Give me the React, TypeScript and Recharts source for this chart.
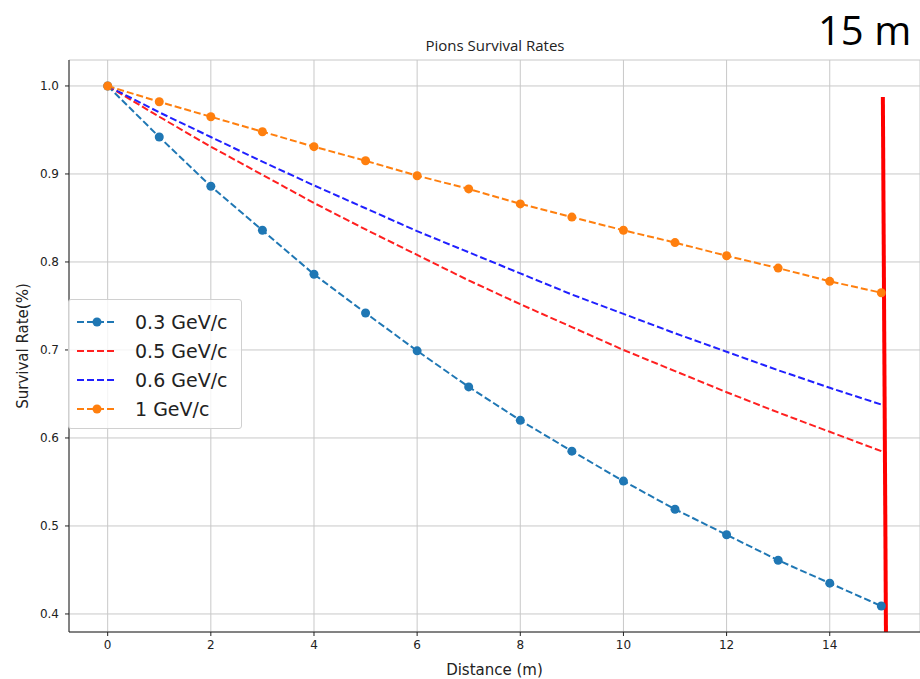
import React from "react";
import {
  LineChart,
  Line,
  XAxis,
  YAxis,
  CartesianGrid,
  ReferenceLine,
  Legend,
} from "recharts";

// distance along the beam line (m)
const distance = [0, 1, 2, 3, 4, 5, 6, 7, 8, 9, 10, 11, 12, 13, 14, 15];

// survival fraction per momentum
const rate03 = [1.0, 0.942, 0.886, 0.836, 0.786, 0.742, 0.699, 0.658, 0.62, 0.585, 0.551, 0.519, 0.49, 0.461, 0.435, 0.409];
const rate05 = [1.0, 0.965, 0.931, 0.899, 0.867, 0.837, 0.808, 0.779, 0.752, 0.726, 0.7, 0.676, 0.652, 0.629, 0.607, 0.585];
const rate06 = [1.0, 0.97, 0.942, 0.914, 0.887, 0.861, 0.835, 0.811, 0.787, 0.763, 0.741, 0.719, 0.698, 0.677, 0.657, 0.638];
const rate1 = [1.0, 0.982, 0.965, 0.948, 0.931, 0.915, 0.898, 0.883, 0.866, 0.851, 0.836, 0.822, 0.807, 0.793, 0.778, 0.765];

const xTicks = [0, 2, 4, 6, 8, 10, 12, 14];
const yTicks = [0.4, 0.5, 0.6, 0.7, 0.8, 0.9, 1.0];

// hand-drawn red marker at 15 m (top / bottom end, in data units)
const cutTop = { x: 15.03, y: 0.9875 };
const cutBottom = { x: 15.09, y: 0.3795 };

const series = [
  { key: "r03", name: "0.3 GeV/c", color: "#1f77b4", dot: true },
  { key: "r05", name: "0.5 GeV/c", color: "#ff2020", dot: false },
  { key: "r06", name: "0.6 GeV/c", color: "#2020ff", dot: false },
  { key: "r1", name: "1 GeV/c", color: "#ff7f0e", dot: true },
];

const data = distance.map((d, i) => ({
  d,
  r03: rate03[i],
  r05: rate05[i],
  r06: rate06[i],
  r1: rate1[i],
}));

const FONT = "'DejaVu Sans', sans-serif";
const DASH = "7 3";

function LegendBox() {
  return (
    <div
      style={{
        background: "rgba(255,255,255,0.8)",
        border: "1px solid #d0d0d0",
        borderRadius: 3,
        boxSizing: "border-box",
        width: 174,
        height: 130,
        padding: "7px 0 0 7px",
        fontFamily: FONT,
        fontSize: 19,
        color: "#222",
      }}
    >
      {series.map((s) => (
        <div key={s.key} style={{ display: "flex", alignItems: "center", height: 29 }}>
          <svg width={42} height={14} style={{ marginRight: 17 }}>
            <line x1={1} y1={7} x2={41} y2={7} stroke={s.color} strokeWidth={2} strokeDasharray={DASH} />
            {s.dot && <circle cx={21} cy={7} r={4.5} fill={s.color} />}
          </svg>
          <span>{s.name}</span>
        </div>
      ))}
    </div>
  );
}

export default function App() {
  return (
    <div style={{ position: "absolute", left: 0, top: 0, width: 920, height: 679, background: "#fff" }}>
      <div
        style={{
          position: "absolute",
          left: 0,
          width: 990,
          top: 35,
          textAlign: "center",
          fontFamily: "'Open Sans', sans-serif",
          fontSize: 15,
          color: "#222",
        }}
      >
        Pions Survival Rates
      </div>
      <div
        style={{
          position: "absolute",
          left: 818,
          top: 2,
          fontFamily: "'Open Sans', sans-serif",
          fontSize: 40,
          color: "#000",
        }}
      >
        15 m
      </div>
      <LineChart
        width={920}
        height={679}
        data={data}
        margin={{ top: 60, right: 0, bottom: 0, left: 0 }}
      >
        <CartesianGrid stroke="#c8c8c8" strokeWidth={1} />
        <XAxis
          dataKey="d"
          type="number"
          domain={[-0.75, 15.75]}
          allowDataOverflow
          ticks={xTicks}
          interval={0}
          height={47}
          tickSize={4}
          tickMargin={4}
          stroke="#222"
          tick={{ fill: "#222", fontSize: 12, fontFamily: FONT }}
          label={{ value: "Distance (m)", position: "insideBottom", offset: 4, fill: "#222", fontSize: 15, fontFamily: FONT }}
        />
        <XAxis
          xAxisId="top"
          dataKey="d"
          type="number"
          orientation="top"
          domain={[-0.75, 15.75]}
          height={0}
          tick={false}
          tickLine={false}
          stroke="#222"
        />
        <YAxis
          type="number"
          domain={[0.3795, 1.0295]}
          allowDataOverflow
          ticks={yTicks}
          interval={0}
          width={69}
          tickSize={4}
          tickMargin={6}
          stroke="#222"
          tickFormatter={(v) => Number(v).toFixed(1)}
          tick={{ fill: "#222", fontSize: 12, fontFamily: FONT }}
          label={{ value: "Survival Rate(%)", angle: -90, position: "insideLeft", offset: 23, fill: "#222", fontSize: 15, fontFamily: FONT, style: { textAnchor: "middle" } }}
        />
        {series.map((s) => (
          <Line
            key={s.key}
            dataKey={s.key}
            name={s.name}
            type="linear"
            stroke={s.color}
            strokeWidth={2}
            strokeDasharray={DASH}
            dot={s.dot ? { r: 4.5, fill: s.color, stroke: "none", strokeDasharray: "" } : false}
            activeDot={false}
            isAnimationActive={false}
          />
        ))}
        <ReferenceLine
          segment={[cutTop, cutBottom]}
          stroke="#ff0000"
          strokeWidth={4}
          ifOverflow="visible"
        />
        <Legend
          layout="horizontal"
          verticalAlign="middle"
          align="center"
          wrapperStyle={{ left: 68, top: 299, width: 174, height: 130 }}
          content={() => <LegendBox />}
        />
      </LineChart>
    </div>
  );
}
